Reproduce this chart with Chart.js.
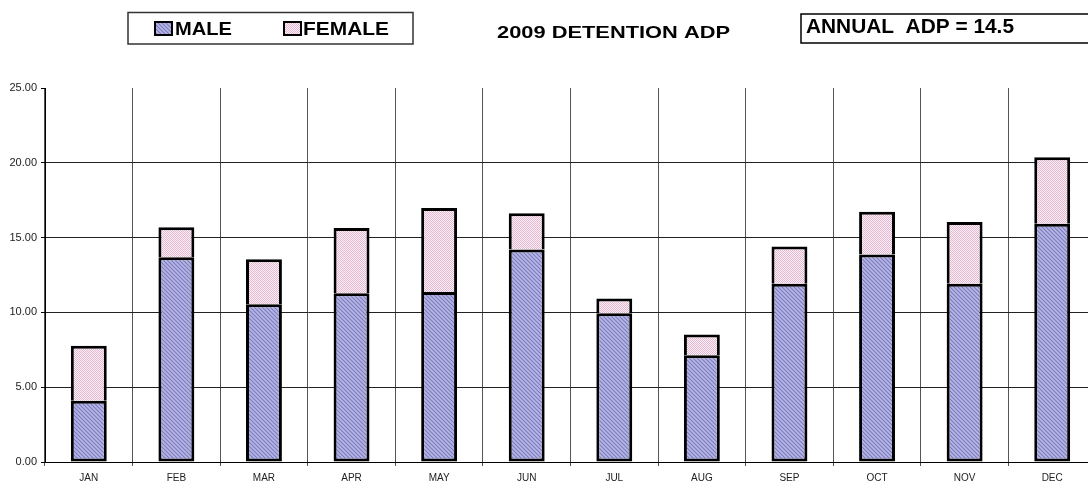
<!DOCTYPE html>
<html>
<head>
<meta charset="utf-8">
<script src="https://cdn.jsdelivr.net/npm/chart.js@4.4.1/dist/chart.umd.min.js"></script>
<style>
  html, body { margin: 0; padding: 0; background: #fff; overflow: hidden; }
  #wrap { width: 1088px; height: 485px; overflow: hidden; }
</style>
</head>
<body>
<div id="wrap"><canvas id="adp" width="1100" height="485"></canvas></div>
<script>
// ── Data ────────────────────────────────────────────────────────────────
const months = ['JAN', 'FEB', 'MAR', 'APR', 'MAY', 'JUN', 'JUL', 'AUG', 'SEP', 'OCT', 'NOV', 'DEC'];
const male   = [4.10, 13.68, 10.54, 11.28, 11.36, 14.20, 9.95, 7.13, 11.92, 13.87, 11.92, 15.92];
const female = [3.67, 2.01, 3.01, 4.36, 5.62, 2.43, 0.98, 1.39, 2.48, 2.85, 4.13, 4.45];
const yTicks = [0, 5, 10, 15, 20, 25];
const chartTitle = '2009 DETENTION ADP';
const annualText = 'ANNUAL  ADP = 14.5';

const font = "'Liberation Sans', Arial, sans-serif";

// ── Fill patterns (old Excel style hatching) ────────────────────────────
function makePattern(size, draw) {
    const c = document.createElement('canvas');
    c.width = size; c.height = size;
    draw(c.getContext('2d'));
    return c.getContext('2d').createPattern(c, 'repeat');
}
const malePattern = makePattern(4, g => {
    g.fillStyle = '#a6a6dc'; g.fillRect(0, 0, 4, 4);
    g.fillStyle = '#7c7cb8';
    for (let i = 0; i < 4; i++) g.fillRect(i, (i + 1) % 4, 1, 1);
    g.fillStyle = '#b4b4e6';
    for (let i = 0; i < 4; i++) g.fillRect(i, (i + 3) % 4, 1, 1);
});
const femalePattern = makePattern(2, g => {
    g.fillStyle = '#fbf2f7'; g.fillRect(0, 0, 2, 2);
    g.fillStyle = '#e4b6cf';
    g.fillRect(0, 0, 1, 1); g.fillRect(1, 1, 1, 1);
});

// draw text squeezed/stretched to a given width (the source image is stretched)
function fitText(ctx, text, x, baseline, f, width) {
    ctx.font = f;
    const w = ctx.measureText(text).width;
    ctx.save();
    ctx.translate(x, baseline);
    ctx.scale(width / w, 1);
    ctx.textBaseline = 'alphabetic';
    ctx.textAlign = 'left';
    ctx.fillText(text, 0, 0);
    ctx.restore();
}

// ── Header: legend box, title, annual box ───────────────────────────────
const headerPlugin = {
    id: 'header',
    afterDraw(chart) {
        const ctx = chart.ctx;
        ctx.save();
        // legend box
        ctx.strokeStyle = '#333';
        ctx.lineWidth = 1.5;
        ctx.strokeRect(128, 12.5, 285, 31.5);
        const items = [
            { fill: malePattern,   sx: 155, tx: 175, label: 'MALE',   w: 57 },
            { fill: femalePattern, sx: 284, tx: 303, label: 'FEMALE', w: 86 },
        ];
        items.forEach(it => {
            ctx.fillStyle = it.fill;
            ctx.fillRect(it.sx, 22, 17, 13);
            ctx.strokeStyle = '#000';
            ctx.lineWidth = 2;
            ctx.strokeRect(it.sx, 22, 17, 13);
            ctx.fillStyle = '#000';
            fitText(ctx, it.label, it.tx, 35, 'bold 19px ' + font, it.w);
        });
        // title
        ctx.fillStyle = '#000';
        fitText(ctx, chartTitle, 497, 37.5, 'bold 17px ' + font, 233);
        // annual box
        ctx.strokeStyle = '#000';
        ctx.lineWidth = 1.5;
        ctx.strokeRect(801, 14, 320, 29);
        fitText(ctx, annualText, 806, 33, 'bold 21px ' + font, 208);
        ctx.restore();
    }
};

new Chart(document.getElementById('adp'), {
    type: 'bar',
    data: {
        labels: months,
        datasets: [
            { label: 'MALE', data: male, backgroundColor: malePattern, borderColor: '#000', borderWidth: 3, borderSkipped: false },
            { label: 'FEMALE', data: female, backgroundColor: femalePattern, borderColor: '#000', borderWidth: { top: 3, left: 3, right: 3, bottom: 0 }, borderSkipped: false },
        ]
    },
    options: {
        responsive: false, animation: false, devicePixelRatio: 1,
        layout: { padding: { top: 88, right: 4, left: 0, bottom: 0 } },
        datasets: { bar: { categoryPercentage: 1, barPercentage: 0.41 } },
        plugins: { legend: { display: false }, title: { display: false }, tooltip: { enabled: false } },
        scales: {
            x: {
                stacked: true,
                afterFit: s => { s.height = 23; },
                grid: { offset: true, color: '#555', lineWidth: 1, tickLength: 4, tickColor: '#555' },
                border: { color: '#000', width: 1 },
                ticks: { color: '#222', font: { family: font, size: 10 }, padding: 6, maxRotation: 0, autoSkip: false }
            },
            y: {
                stacked: true, min: 0, max: 25,
                afterFit: s => { s.width = 45; },
                afterBuildTicks: s => { s.ticks = yTicks.map(v => ({ value: v })); },
                grid: {
                    color: c => c.tick && c.tick.value === 25 ? 'rgba(0,0,0,0)' : '#222',
                    lineWidth: 1, tickLength: 4, tickColor: '#000'
                },
                border: { color: '#000', width: 1 },
                ticks: { color: '#222', font: { family: font, size: 11 }, padding: 4, callback: v => Number(v).toFixed(2) }
            }
        }
    },
    plugins: [headerPlugin]
});
</script>
</body>
</html>
